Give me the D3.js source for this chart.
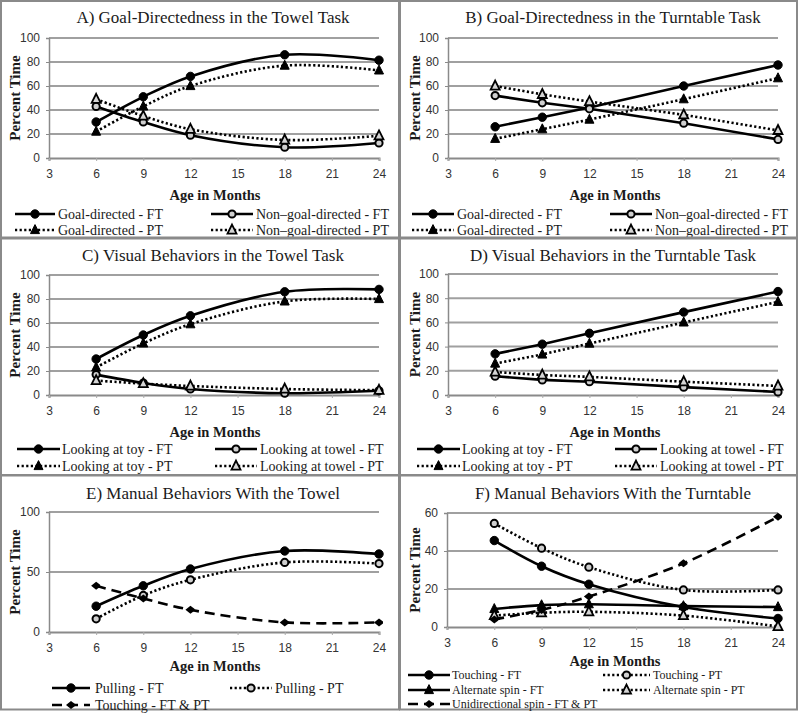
<!DOCTYPE html>
<html><head><meta charset="utf-8">
<script src="https://cdn.jsdelivr.net/npm/d3@7"></script>
<style>body{margin:0;background:#fff}svg{display:block}</style>
</head><body>
<svg id="chart" width="800" height="713"></svg>
<script>
// ---- data ----
const months = [6, 9, 12, 18, 24];
const xTickValues = [3, 6, 9, 12, 15, 18, 21, 24];
const yTicks100 = [0, 20, 40, 60, 80, 100];
const yTicksE = [0, 50, 100];
const yTicksF = [0, 20, 40, 60];

const titles = [
  "A) Goal-Directedness in the Towel Task",
  "B) Goal-Directedness in the Turntable Task",
  "C) Visual Behaviors in the Towel Task",
  "D) Visual Behaviors in the Turntable Task",
  "E) Manual Behaviors With the Towel",
  "F) Manual Behaviors With the Turntable"
];

// A
const aGoalFT = [30, 51, 68, 86, 81.5];
const aGoalPT = [22, 43, 60, 77, 73];
const aNonGoalFT = [43, 30, 19, 9, 12.5];
const aNonGoalPT = [49, 35, 24, 15, 18.5];
// B
const bGoalFT = [26, 34, 42, 60, 77.5];
const bGoalPT = [16, 24, 32, 49, 66.5];
const bNonGoalFT = [52, 46, 41, 29, 15.5];
const bNonGoalPT = [60, 53, 47, 36, 23];
// C
const cToyFT = [30, 50, 66, 86, 88];
const cToyPT = [23, 43, 59, 78, 80];
const cTowelFT = [17, 10, 5, 1.5, 3.5];
const cTowelPT = [12, 9.5, 7.5, 5, 4];
// D
const dToyFT = [34, 42, 51, 68.5, 85.5];
const dToyPT = [26, 33.5, 42.5, 60, 77];
const dTowelFT = [15.5, 12.5, 11, 6.5, 2.5];
const dTowelPT = [19, 16.5, 15, 11, 7.5];
// E
const ePullFT = [21.5, 38.5, 52.5, 67.5, 65];
const ePullPT = [11, 30.5, 43.5, 58, 57];
const eTouch = [38.5, 28, 18.5, 8, 8];
// F
const fTouchFT = [45.5, 32, 22.5, 10.5, 4.5];
const fTouchPT = [54.5, 41.5, 31.5, 19.5, 19.5];
const fAltFT = [9.5, 11.5, 12, 11, 10.5];
const fAltPT = [6, 7.5, 8, 6, 0.3];
const fUni = [4, 9, 16, 33.5, 58];

const legendA = ["Goal-directed - FT", "Non\u2013goal-directed - FT", "Goal-directed - PT", "Non\u2013goal-directed - PT"];
const legendC = ["Looking at toy - FT", "Looking at towel - FT", "Looking at toy - PT", "Looking at towel - PT"];
const legendE = ["Pulling - FT", "Pulling - PT", "Touching - FT & PT"];
const legendF = ["Touching - FT", "Touching - PT", "Alternate spin - FT", "Alternate spin - PT", "Unidirectional spin - FT & PT"];

// ---- panel configs (layout) ----
const panels = [
  {ox: 0, oy: 0, title: titles[0], yMax: 100, yTicks: yTicks100, curve: "smooth",
   plot: {x0: 49, x1: 379, y0: 38, y1: 158}, xLabY: 177, axisTitleY: 200,
   legend: {cols: [[15, 55, 58], [211, 253, 256]], rows: [214, 230], font: 14},
   series: [
     {v: aGoalFT, dash: "solid", m: "circle", label: legendA[0], col: 0, row: 0},
     {v: aNonGoalFT, dash: "solid", m: "ocircle", label: legendA[1], col: 1, row: 0},
     {v: aGoalPT, dash: "dotted", m: "tri", label: legendA[2], col: 0, row: 1},
     {v: aNonGoalPT, dash: "dotted", m: "otri", label: legendA[3], col: 1, row: 1}
   ]},
  {ox: 400, oy: 0, title: titles[1], yMax: 100, yTicks: yTicks100, curve: "linear",
   plot: {x0: 48, x1: 378, y0: 38, y1: 158}, xLabY: 177, axisTitleY: 200,
   legend: {cols: [[12, 54, 57], [210, 252, 255]], rows: [214, 230], font: 14},
   series: [
     {v: bGoalFT, dash: "solid", m: "circle", label: legendA[0], col: 0, row: 0},
     {v: bNonGoalFT, dash: "solid", m: "ocircle", label: legendA[1], col: 1, row: 0},
     {v: bGoalPT, dash: "dotted", m: "tri", label: legendA[2], col: 0, row: 1},
     {v: bNonGoalPT, dash: "dotted", m: "otri", label: legendA[3], col: 1, row: 1}
   ]},
  {ox: 0, oy: 238, title: titles[2], yMax: 100, yTicks: yTicks100, curve: "smooth",
   plot: {x0: 49, x1: 379, y0: 37, y1: 157}, xLabY: 177, axisTitleY: 199,
   legend: {cols: [[17, 60, 62], [215, 257, 260]], rows: [211, 228], font: 14},
   series: [
     {v: cToyFT, dash: "solid", m: "circle", label: legendC[0], col: 0, row: 0},
     {v: cTowelFT, dash: "solid", m: "ocircle", label: legendC[1], col: 1, row: 0},
     {v: cToyPT, dash: "dotted", m: "tri", label: legendC[2], col: 0, row: 1},
     {v: cTowelPT, dash: "dotted", m: "otri", label: legendC[3], col: 1, row: 1}
   ]},
  {ox: 400, oy: 238, title: titles[3], yMax: 100, yTicks: yTicks100, curve: "linear",
   plot: {x0: 48, x1: 378, y0: 36, y1: 157}, xLabY: 177, axisTitleY: 199,
   legend: {cols: [[17, 60, 62], [215, 257, 260]], rows: [211, 228], font: 14},
   series: [
     {v: dToyFT, dash: "solid", m: "circle", label: legendC[0], col: 0, row: 0},
     {v: dTowelFT, dash: "solid", m: "ocircle", label: legendC[1], col: 1, row: 0},
     {v: dToyPT, dash: "dotted", m: "tri", label: legendC[2], col: 0, row: 1},
     {v: dTowelPT, dash: "dotted", m: "otri", label: legendC[3], col: 1, row: 1}
   ]},
  {ox: 0, oy: 476, title: titles[4], yMax: 100, yTicks: yTicksE, curve: "smooth",
   plot: {x0: 49, x1: 379, y0: 36, y1: 156}, xLabY: 176, axisTitleY: 195,
   legend: {cols: [[52, 90, 95], [230, 272, 275]], rows: [212, 229], font: 14},
   series: [
     {v: ePullFT, dash: "solid", m: "circle", label: legendE[0], col: 0, row: 0},
     {v: ePullPT, dash: "dotted", m: "ocircle", label: legendE[1], col: 1, row: 0},
     {v: eTouch, dash: "dashed", m: "diamond", label: legendE[2], col: 0, row: 1}
   ]},
  {ox: 400, oy: 476, title: titles[5], yMax: 60, yTicks: yTicksF, curve: "smooth",
   plot: {x0: 47, x1: 378, y0: 37, y1: 151}, xLabY: 172, axisTitleY: 190,
   legend: {cols: [[8, 50, 52], [203, 250, 253]], rows: [199, 214, 228], font: 12},
   series: [
     {v: fTouchFT, dash: "solid", m: "circle", label: legendF[0], col: 0, row: 0},
     {v: fTouchPT, dash: "dotted", m: "ocircle", label: legendF[1], col: 1, row: 0},
     {v: fAltFT, dash: "solid", m: "tri", label: legendF[2], col: 0, row: 1},
     {v: fAltPT, dash: "dotted", m: "otri", label: legendF[3], col: 1, row: 1},
     {v: fUni, dash: "dashed", m: "diamond", label: legendF[4], col: 0, row: 2}
   ]}
];

const svg = d3.select("#chart");
const serif = "'Liberation Serif', 'Times New Roman', serif";
const sans = "'Liberation Sans', Arial, sans-serif";
const gridCol = "#a0a0a0";

function dashArray(d) {
  if (d === "dotted") return "2.2,2.4";
  if (d === "dashed") return "10,6";
  return null;
}

function drawMarker(g, type, x, y) {
  const s = 4.2;
  if (type === "circle" || type === "ocircle") {
    g.append("circle").attr("cx", x).attr("cy", y).attr("r", type === "circle" ? s : s - 0.6)
      .attr("fill", type === "circle" ? "#000" : "#cfcfcf")
      .attr("stroke", "#000").attr("stroke-width", type === "circle" ? 1 : 2);
  } else if (type === "tri" || type === "otri") {
    const h = 9;
    g.append("path")
      .attr("d", `M${x},${y - h * 0.6} L${x + 4.5},${y + h * 0.4} L${x - 4.5},${y + h * 0.4} Z`)
      .attr("fill", type === "tri" ? "#000" : "#d5d5d5")
      .attr("stroke", "#000").attr("stroke-width", type === "tri" ? 1 : 1.8);
  } else if (type === "diamond") {
    g.append("path")
      .attr("d", `M${x - 5},${y} L${x},${y - 4} L${x + 4},${y - 1} L${x + 4},${y + 1} L${x},${y + 4} Z`)
      .attr("fill", "#000");
  }
}

panels.forEach(p => {
  const g = svg.append("g").attr("transform", `translate(${p.ox},${p.oy})`);
  // border
  g.append("rect").attr("x", p.ox === 0 ? 1 : 0).attr("y", p.oy === 0 ? 1 : -0.5)
    .attr("width", p.ox === 0 ? 398 : 397).attr("height", p.oy === 476 ? 234 : 237.5)
    .attr("fill", "none").attr("stroke", "#8a8a8a").attr("stroke-width", 2);

  const x = d3.scaleLinear().domain([3, 24]).range([p.plot.x0, p.plot.x1]);
  const y = d3.scaleLinear().domain([0, p.yMax]).range([p.plot.y1, p.plot.y0]);

  // title
  g.append("text").attr("x", 213).attr("y", 23).attr("text-anchor", "middle")
    .attr("font-family", serif).attr("font-size", 17).attr("fill", "#1a1a1a").text(p.title);

  // gridlines
  g.append("g").selectAll("line").data(p.yTicks.filter(t => t > 0)).join("line")
    .attr("x1", p.plot.x0).attr("x2", p.plot.x1)
    .attr("y1", d => y(d)).attr("y2", d => y(d))
    .attr("stroke", gridCol).attr("stroke-width", 2);

  // y axis
  const yAxis = g.append("g").attr("transform", `translate(${p.plot.x0},0)`)
    .call(d3.axisLeft(y).tickValues(p.yTicks).tickSize(3).tickPadding(6));
  yAxis.select(".domain").attr("stroke", "#8a8a8a").attr("stroke-width", 1.5);
  yAxis.selectAll(".tick line").attr("stroke", "#8a8a8a");
  yAxis.selectAll("text").attr("font-family", sans).attr("font-size", 12).attr("fill", "#333");

  // x axis
  const xAxis = g.append("g").attr("transform", `translate(0,${p.plot.y1})`)
    .call(d3.axisBottom(x).tickValues(xTickValues).tickSize(3).tickPadding(8));
  xAxis.select(".domain").attr("stroke", "#8a8a8a").attr("stroke-width", 2);
  xAxis.selectAll(".tick line").attr("stroke", "#aaa");
  xAxis.selectAll("text").attr("font-family", sans).attr("font-size", 12).attr("fill", "#333");

  // axis titles
  g.append("text").attr("x", 215).attr("y", p.axisTitleY).attr("text-anchor", "middle")
    .attr("font-family", serif).attr("font-weight", "bold").attr("font-size", 14.5).attr("fill", "#1a1a1a")
    .text("Age in Months");
  g.append("text").attr("transform", `translate(20,${(p.plot.y0 + p.plot.y1) / 2}) rotate(-90)`)
    .attr("text-anchor", "middle").attr("font-family", serif).attr("font-weight", "bold")
    .attr("font-size", 15).attr("fill", "#1a1a1a").text("Percent Time");

  // series
  const line = d3.line().x((d, i) => x(months[i])).y(d => y(d))
    .curve(p.curve === "smooth" ? d3.curveCatmullRom.alpha(0.5) : d3.curveLinear);
  p.series.forEach(s => {
    g.append("path").datum(s.v).attr("d", line).attr("fill", "none")
      .attr("stroke", "#000").attr("stroke-width", 2.6)
      .attr("stroke-dasharray", dashArray(s.dash));
  });
  p.series.forEach(s => {
    s.v.forEach((d, i) => drawMarker(g, s.m, x(months[i]), y(d)));
  });

  // legend
  p.series.forEach(s => {
    const c = p.legend.cols[s.col];
    const ry = p.legend.rows[s.row];
    g.append("line").attr("x1", c[0]).attr("x2", c[1]).attr("y1", ry).attr("y2", ry)
      .attr("stroke", "#000").attr("stroke-width", 2.6).attr("stroke-dasharray", dashArray(s.dash));
    drawMarker(g, s.m, (c[0] + c[1]) / 2, ry);
    g.append("text").attr("x", c[2]).attr("y", ry + p.legend.font * 0.33)
      .attr("font-family", serif).attr("font-size", p.legend.font).attr("fill", "#1a1a1a").text(s.label);
  });
});
</script>
</body></html>
